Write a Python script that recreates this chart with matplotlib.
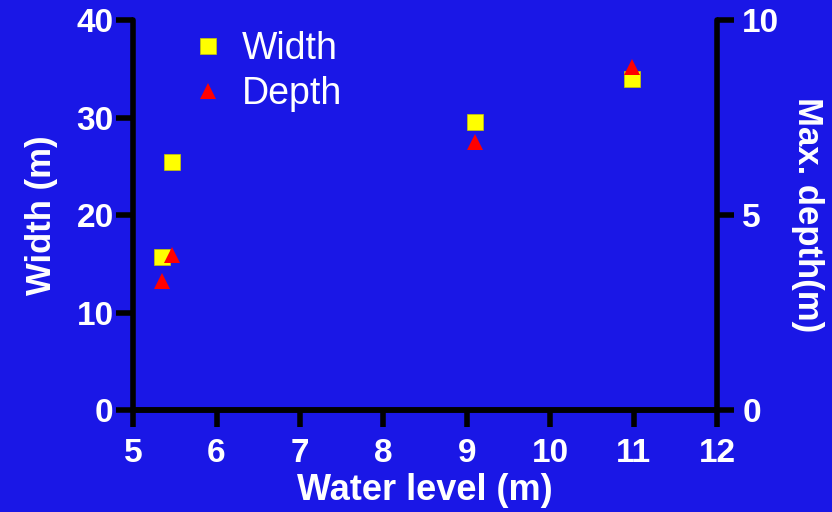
import matplotlib.pyplot as plt

water_level = [5.35, 5.47, 9.1, 10.98]
width_m = [15.7, 25.4, 29.5, 33.9]
depth_m = [3.3, 3.98, 6.87, 8.8]

bg = "#1a17e6"
plt.rcParams['font.family'] = ['Liberation Sans', 'DejaVu Sans']

fig = plt.figure(figsize=(8.32, 5.12), dpi=100, facecolor=bg)
ax = fig.add_axes([0.16, 0.199, 0.702, 0.762], facecolor=bg)
ax2 = ax.twinx()

ax.plot(water_level, width_m, 's', color='#ffff00', markersize=12, label='Width',
        markeredgecolor='#c8c800', markeredgewidth=0.5, clip_on=False)
ax2.plot(water_level, depth_m, '^', color='#ff0000', markersize=12, label='Depth',
         markeredgewidth=0, clip_on=False)

ax.set_xlim(5, 12)
ax.set_ylim(0, 40)
ax2.set_ylim(0, 10)
ax.set_xticks(range(5, 13))
ax.set_yticks([0, 10, 20, 30, 40])
ax2.set_yticks([0, 5, 10])

for a in (ax, ax2):
    for s in a.spines.values():
        s.set_linewidth(4)
        s.set_color('black')
        s.set_capstyle('round')
    a.spines['top'].set_visible(False)
    a.tick_params(width=4, length=12, color='black', labelcolor='white',
                  labelsize=24, pad=6)
    for lbl in a.get_xticklabels() + a.get_yticklabels():
        lbl.set_fontweight('bold')
ax2.spines['left'].set_visible(False)
ax.spines['right'].set_visible(False)
ax.tick_params(axis='y', pad=2)
ax.tick_params(axis='x', pad=8)

ax.set_xlabel('Water level (m)', fontsize=26, fontweight='bold', color='white', labelpad=3)
ax.set_ylabel('Width (m)', fontsize=25, fontweight='bold', color='white', labelpad=13)
ax2.set_ylabel('Max. depth(m)', fontsize=25, fontweight='bold', color='white',
               rotation=270, labelpad=32)

h1, l1 = ax.get_legend_handles_labels()
h2, l2 = ax2.get_legend_handles_labels()
ax.legend(h1 + h2, l1 + l2, loc='upper left', bbox_to_anchor=(0.038, 1.058),
          frameon=False, fontsize=27, labelcolor='white', handletextpad=0.4,
          labelspacing=0.25, handlelength=1.0)

plt.savefig("out.png", dpi=100, facecolor=bg)
